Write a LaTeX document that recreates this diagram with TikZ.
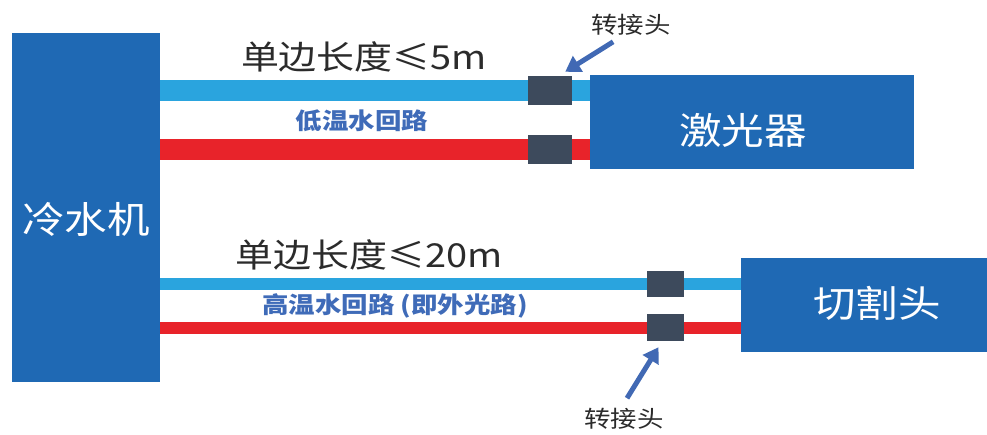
\documentclass[tikz,border=0pt]{standalone}
\usepackage{fontspec}
\usepackage{graphicx}
\usepackage{xcolor}
\newfontfamily\cjk{Noto Sans CJK SC}
\usetikzlibrary{arrows.meta,positioning,backgrounds}
\definecolor{boxblue}{HTML}{1F69B4}
\definecolor{pipeblue}{HTML}{2AA4DE}
\definecolor{pipered}{HTML}{E8232A}
\definecolor{jointgray}{HTML}{3D4A5C}
\definecolor{loopblue}{HTML}{3F6BB8}
\definecolor{arrowblue}{HTML}{4169B4}
\definecolor{tagcolor}{HTML}{2B2B2B}
\newcommand{\wide}[1]{\scalebox{1.15}[1]{#1}}

\begin{document}
\begin{tikzpicture}[x=1pt,y=-1pt,
    unit/.style={fill=boxblue, inner sep=0pt},
    unittext/.style={text=white, inner sep=0pt, font=\cjk\fontsize{37}{40}\selectfont},
    joint/.style={fill=jointgray, inner sep=0pt},
    cold/.style={draw=pipeblue},
    hot/.style={draw=pipered},
    len/.style={text=tagcolor, inner sep=0pt, font=\cjk\fontsize{33}{36}\selectfont},
    loopname/.style={text=loopblue, inner sep=0pt, font=\cjk\bfseries\fontsize{23}{26}\selectfont},
    tag/.style={text=tagcolor, inner sep=0pt, font=\cjk\fontsize{23}{26}\selectfont},
    pointer/.style={draw=arrowblue, line width=5pt, -{Triangle[length=15pt,width=18pt]}}]
\useasboundingbox (0,0) rectangle (987,434);
\node[unit, minimum width=148pt, minimum height=349pt,
      label={[unittext, yshift=-12pt]center:\wide{冷水机}}] (chiller) at (86,207.5) {};
\node[unit, minimum width=324pt, minimum height=94pt,
      label={[unittext, xshift=-9pt, yshift=-8pt]center:\wide{激光器}}] (laser) at (752,122) {};
\node[unit, minimum width=246pt, minimum height=94pt,
      label={[unittext, xshift=13pt, yshift=2pt]center:\wide{切割头}}] (cutter) at (864,305) {};
\node[joint, minimum width=44pt, minimum height=29pt] (j1) at (550,90.5) {};
\node[joint, minimum width=44pt, minimum height=29pt] (j2) at (550,149.5) {};
\node[joint, minimum width=37pt, minimum height=26pt] (j3) at (665.5,284) {};
\node[joint, minimum width=37pt, minimum height=27pt] (j4) at (665.5,327.5) {};
\begin{scope}[on background layer]
\draw[cold, line width=21pt] (chiller.east |- j1) -- (j1) -- (laser.west |- j1);
\draw[hot, line width=21pt] (chiller.east |- j2) -- (j2) -- (laser.west |- j2);
\draw[cold, line width=12pt] (chiller.east |- j3) -- (j3) -- (cutter.west |- j3);
\draw[hot, line width=12pt] (chiller.east |- j4) -- (j4) -- (cutter.west |- j4);
\end{scope}
\node[len] (len1) at (364,57) {\wide{单边长度≤5m}};
\node[len] (len2) at (369,255) {\wide{单边长度≤20m}};
\node[loopname] (loop1) at (362,121) {\wide{低温水回路}};
\node[loopname] (loop2) at (395,306) {\wide{高温水回路 (即外光路)}};
\node[tag] (tag1) at (631,25) {\wide{转接头}};
\node[tag] (tag2) at (624,419) {\wide{转接头}};
\draw[pointer] ([shift={(22,6)}]tag1.south west) -- ([shift={(-7,-4)}]j1.north east);
\draw[pointer] ([shift={(3,-10)}]tag2.north) -- ([shift={(-7,6)}]j4.south);
\end{tikzpicture}
\end{document}
